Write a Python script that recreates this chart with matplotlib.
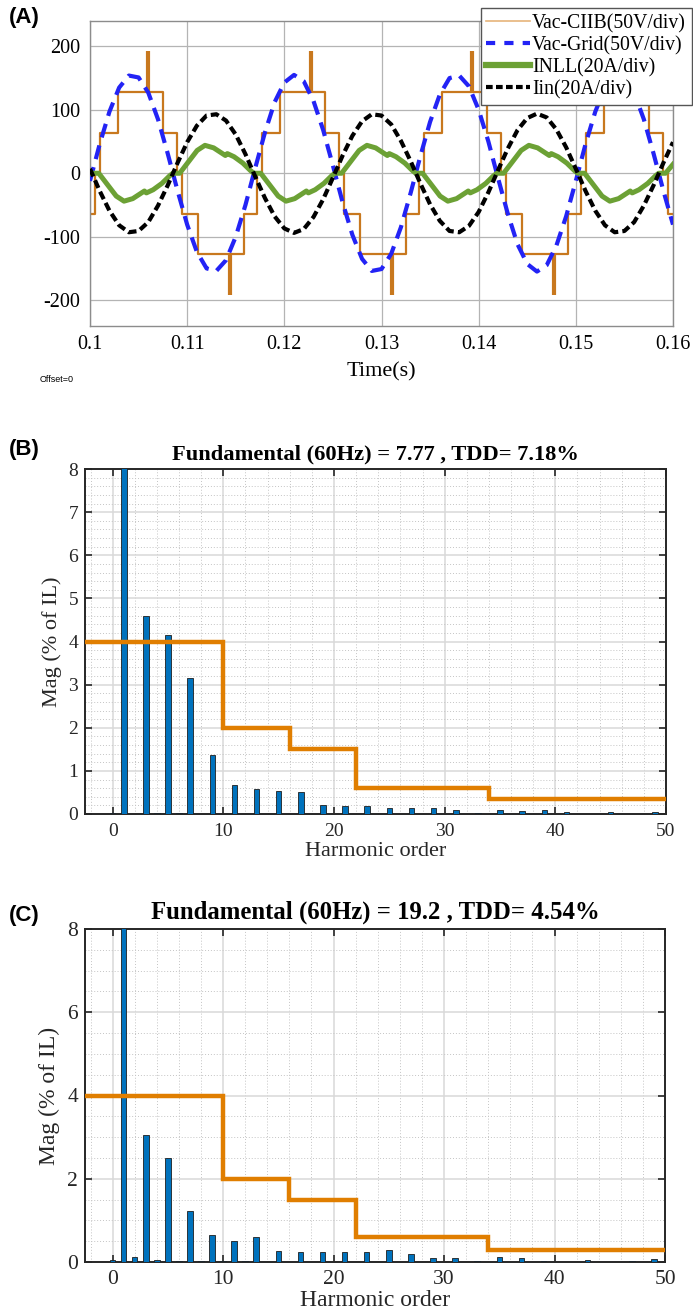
import numpy as np
import matplotlib
matplotlib.use('Agg')
import matplotlib.pyplot as plt
from matplotlib.lines import Line2D
from matplotlib.ticker import MultipleLocator

plt.rcParams['font.family'] = ['Liberation Serif', 'DejaVu Serif']
plt.rcParams['axes.unicode_minus'] = False  # plain hyphen like the original

#%% panel (A) data, time given in ms after t = 0.1 s
# grid voltage and input current, read every 1 ms
vac_grid = [-12, 46, 97, 135, 154, 151, 127, 85, 31, -27,
            -81, -124, -150, -154, -137, -100, -50, 8, 64, 112,
            143, 155, 145, 114, 68, 12, -46, -97, -135, -154,
            -151, -127, -85, -31, 27, 81, 124, 150, 154, 137,
            100, 50, -8, -64, -112, -143, -155, -145, -114, -68,
            -12, 46, 97, 135, 154, 151, 127, 85, 31, -27, -81]
iin = [7, -28, -59, -82, -93, -91, -77, -51, -19, 16,
       49, 75, 91, 93, 83, 61, 30, -5, -39, -68,
       -87, -94, -88, -69, -41, -7, 28, 59, 82, 93,
       91, 77, 51, 19, -16, -49, -75, -91, -93, -83,
       -61, -30, 5, 39, 68, 87, 94, 88, 69, 41,
       7, -28, -59, -82, -93, -91, -77, -51, -19, 16, 49]
# nonlinear load current, breakpoints
inll_ms = [0.0, 0.2, 0.9, 1.7, 2.7, 3.5, 4.4, 5.2, 5.6, 5.8, 6.5, 7.4, 8.2,
           8.53, 9.23, 10.03, 11.03, 11.83, 12.73, 13.53, 13.93, 14.13, 14.83, 15.73, 16.53,
           16.87, 17.57, 18.37, 19.37, 20.17, 21.07, 21.87, 22.27, 22.47, 23.17, 24.07, 24.87,
           25.2, 25.9, 26.7, 27.7, 28.5, 29.4, 30.2, 30.6, 30.8, 31.5, 32.4, 33.2,
           33.53, 34.23, 35.03, 36.03, 36.83, 37.73, 38.53, 38.93, 39.13, 39.83, 40.73, 41.53,
           41.87, 42.57, 43.37, 44.37, 45.17, 46.07, 46.87, 47.27, 47.47, 48.17, 49.07, 49.87,
           50.2, 50.9, 51.7, 52.7, 53.5, 54.4, 55.2, 55.6, 55.8, 56.5, 57.4, 58.2,
           58.53, 59.23, 60.0]
inll = [0, 0, 0, -16, -36, -44, -40, -32, -28, -31, -26, -16, -4,
        0, 0, 16, 36, 44, 40, 32, 28, 31, 26, 16, 4,
        0, 0, -16, -36, -44, -40, -32, -28, -31, -26, -16, -4,
        0, 0, 16, 36, 44, 40, 32, 28, 31, 26, 16, 4,
        0, 0, -16, -36, -44, -40, -32, -28, -31, -26, -16, -4,
        0, 0, 16, 36, 44, 40, 32, 28, 31, 26, 16, 4,
        0, 0, -16, -36, -44, -40, -32, -28, -31, -26, -16, -4,
        0, 0, 14]
# CHB staircase: switching instant and level after it
chb_ms = [0, 0.5, 1.0, 2.9, 7.5, 9.0, 9.45, 11.15, 15.85,
          17.17, 17.67, 19.57, 24.17, 25.67, 26.12, 27.82, 32.52,
          33.83, 34.33, 36.23, 40.83, 42.33, 42.78, 44.48, 49.18,
          50.5, 51.0, 52.9, 57.5, 59.0, 59.45, 60.0]
chb = [-64, 0, 64, 128, 64, 0, -64, -128, -64,
       0, 64, 128, 64, 0, -64, -128, -64,
       0, 64, 128, 64, 0, -64, -128, -64,
       0, 64, 128, 64, 0, -64, -64]
spike_ms = [6.0, 14.4, 22.7, 31.1, 39.3, 47.8]
spike_base = [128, -128, 128, -128, 128, -128]
spike_top = [192, -192, 192, -192, 192, -192]

time_ticks = [0.1, 0.11, 0.12, 0.13, 0.14, 0.15, 0.16]
time_ticklabels = ['0.1', '0.11', '0.12', '0.13', '0.14', '0.15', '0.16']
volt_ticks = [-200, -100, 0, 100, 200]
legend_labels = ['Vac-CIIB(50V/div)', 'Vac-Grid(50V/div)', 'INLL(20A/div)', 'Iin(20A/div)']

#%% panels (B), (C) data: harmonic spectra in % of IL
harm = list(range(0, 51))
mag_b = [0.02, 100, 0.01, 4.59, 0.03, 4.15, 0.03, 3.15, 0.01, 1.37,
         0.01, 0.67, 0.01, 0.59, 0.01, 0.53, 0.01, 0.51, 0.01, 0.21,
         0.01, 0.19, 0.01, 0.19, 0.01, 0.13, 0.01, 0.15, 0.01, 0.13,
         0.01, 0.10, 0.01, 0.03, 0.01, 0.09, 0.01, 0.08, 0.01, 0.10,
         0.01, 0.05, 0.01, 0.01, 0.01, 0.05, 0.01, 0.01, 0.01, 0.05, 0.01]
mag_c = [0.05, 100, 0.12, 3.05, 0.06, 2.51, 0.03, 1.22, 0.02, 0.66,
         0.02, 0.51, 0.02, 0.61, 0.01, 0.26, 0.01, 0.23, 0.01, 0.23,
         0.01, 0.23, 0.01, 0.23, 0.01, 0.28, 0.01, 0.20, 0.01, 0.10,
         0.01, 0.09, 0.01, 0.02, 0.01, 0.12, 0.01, 0.10, 0.01, 0.03,
         0.01, 0.01, 0.01, 0.04, 0.01, 0.00, 0.01, 0.02, 0.01, 0.07, 0.01]
lim_edges = [-2.5, 10, 16, 22, 34, 50]
lim_b = [4, 2, 1.5, 0.6, 0.35]
lim_c = [4, 2, 1.5, 0.6, 0.3]
title_b = 'Fundamental (60Hz) = 7.77 , TDD= 7.18%'
title_c = 'Fundamental (60Hz) = 19.2 , TDD= 4.54%'

#%% figure, axes placed in pixels
W, H = 693, 1311
fig = plt.figure(figsize=(W / 100, H / 100), dpi=100)


def px_axes(l, t, r, b):
    return fig.add_axes([l / W, 1 - b / H, (r - l) / W, (b - t) / H])


#%% (A) waveforms
axA = px_axes(90, 21, 673, 325.5)
ms2s = lambda v: 0.1 + np.asarray(v, dtype=float) / 1000.0
t_ms = np.arange(len(vac_grid))
axA.step(ms2s(chb_ms), chb, where='post', color='#C8781E', lw=1.6, zorder=2)
axA.vlines(ms2s(spike_ms), spike_base, spike_top, color='#C8781E', lw=3, zorder=2)
axA.plot(ms2s(t_ms), vac_grid, color='#2323F5', lw=3, dashes=(3.4, 2.0), zorder=3)
axA.plot(ms2s(inll_ms), inll, color='#6CA135', lw=3.6, zorder=4)
axA.plot(ms2s(t_ms), iin, color='black', lw=3, dashes=(2.0, 1.0), zorder=5)
axA.set_xlim(0.1, 0.16)
axA.set_ylim(-240, 240)
axA.set_xticks(time_ticks)
axA.set_xticklabels(time_ticklabels)
axA.set_yticks(volt_ticks)
axA.grid(True, color='#b4b4b4', lw=0.9)
axA.set_axisbelow(True)
axA.tick_params(direction='in', length=0, labelsize=14.5, pad=7)
axA.tick_params(axis='y', pad=7)
for s in axA.spines.values():
    s.set_color('#8c8c8c')
    s.set_linewidth(1.0)
axA.set_xlabel('Time(s)', fontsize=16)
axA.xaxis.set_label_coords(0.5, -(372 - 325.5) / 304.5)
axA.xaxis.label.set_va('center')

handles = [Line2D([], [], color='#E6B47A', lw=1.2),
           Line2D([], [], color='#2323F5', lw=3, dashes=(2.2, 2.2)),
           Line2D([], [], color='#6CA135', lw=4.5),
           Line2D([], [], color='black', lw=3, dashes=(1.6, 0.8))]
leg = axA.legend(handles, legend_labels, loc='upper right',
                 bbox_to_anchor=(692 / W, 1 - 8 / H), bbox_transform=fig.transFigure,
                 fontsize=14.2, handlelength=2.2, handletextpad=0.12, labelspacing=0.14,
                 borderpad=0.3, borderaxespad=0, fancybox=False, framealpha=1)
leg.get_frame().set_edgecolor('#555555')
leg.get_frame().set_linewidth(1.0)

fig.text(40 / W, 1 - 379 / H, 'Offset=0', fontsize=6.5, family='Liberation Sans',
         ha='left', va='center')


#%% (B), (C) harmonic spectra
def spectrum(box, mag, lim, title, fs_tick, fs_lab, fs_title, ystep, yminor, tick_pad,
             lab_x, lab_y, title_y):
    ax = px_axes(*box)
    h_px = box[3] - box[1]
    w_px = box[2] - box[0]
    ax.bar(harm, mag, width=0.5, color='#0072BD', edgecolor='#1e1e1e', linewidth=0.6, zorder=3)
    ax.stairs(lim, lim_edges, baseline=None, color='#E07E00', lw=3.2, zorder=4)
    ax.set_xlim(-2.5, 50)
    ax.set_ylim(0, 8)
    ax.xaxis.set_major_locator(MultipleLocator(10))
    ax.xaxis.set_minor_locator(MultipleLocator(2))
    ax.yaxis.set_major_locator(MultipleLocator(ystep))
    ax.yaxis.set_minor_locator(MultipleLocator(yminor))
    ax.grid(True, which='major', color='#d9d9d9', lw=1.1)
    ax.grid(True, which='minor', color='#c4c4c4', lw=0.7, ls=(0, (1, 2)))
    ax.set_axisbelow(True)
    ax.tick_params(which='major', direction='in', top=True, right=True, length=5, width=1.2,
                   labelsize=fs_tick, pad=tick_pad, colors='#262626')
    ax.tick_params(axis='y', pad=5)
    ax.tick_params(which='minor', length=0)
    for s in ax.spines.values():
        s.set_color('#262626')
        s.set_linewidth(1.4)
    ax.set_xlabel('Harmonic order', fontsize=fs_lab, color='#262626')
    ax.xaxis.set_label_coords(0.5, -lab_y / h_px)
    ax.xaxis.label.set_va('center')
    ax.set_ylabel('Mag (% of IL)', fontsize=fs_lab, color='#262626')
    ax.yaxis.set_label_coords(-lab_x / w_px, 0.5)
    ax.yaxis.label.set_va('center')
    ax.text(0.5, 1 + title_y / h_px, title, transform=ax.transAxes, ha='center', va='center',
            fontsize=fs_title, fontweight='bold')
    return ax


axB = spectrum((85, 469, 666, 814), mag_b, lim_b, title_b, 14, 16, 16.2, 1, 0.2, 6.5, 33, 37, 15)
axC = spectrum((85, 929, 665, 1262), mag_c, lim_c, title_c, 15.5, 17, 17.8, 2, 0.5, 5.5, 36, 38, 17)

for lab, y in (('(A)', 17), ('(B)', 450), ('(C)', 915)):
    fig.text(24 / W, 1 - y / H, lab, fontsize=16, fontweight='bold', family='Liberation Sans',
             ha='center', va='center')

fig.savefig('out.png', dpi=100)
